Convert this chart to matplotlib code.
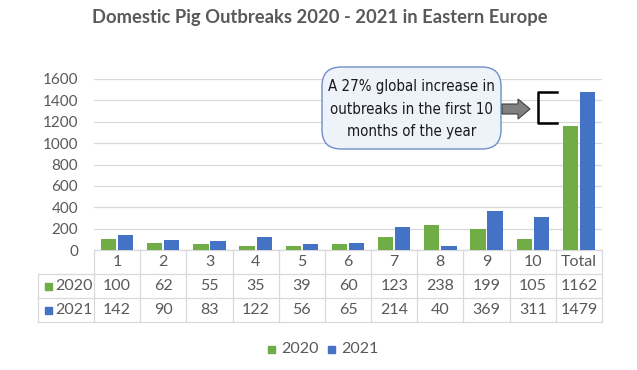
import matplotlib
matplotlib.use("Agg")
import matplotlib.pyplot as plt
from matplotlib.patches import FancyBboxPatch, FancyArrow, Rectangle
from matplotlib.transforms import blended_transform_factory
from matplotlib import font_manager
import numpy as np

categories = ["1", "2", "3", "4", "5", "6", "7", "8", "9", "10", "Total"]
series_2020 = [100, 62, 55, 35, 39, 60, 123, 238, 199, 105, 1162]
series_2021 = [142, 90, 83, 122, 56, 65, 214, 40, 369, 311, 1479]
series_names = ["2020", "2021"]
yticks = [0, 200, 400, 600, 800, 1000, 1200, 1400, 1600]
title = "Domestic Pig Outbreaks 2020 - 2021 in Eastern Europe"
callout = "A 27% global increase in\noutbreaks in the first 10\nmonths of the year"

GREEN = "#70ad47"
BLUE = "#4472c4"
TXT = "#595959"
GRID = "#d9d9d9"
FONT = ["Lato", "DejaVu Sans"]
plt.rcParams['font.family'] = FONT

cond = [f for f in font_manager.fontManager.ttflist
        if f.name == "DejaVu Sans" and "Condensed" in f.fname
        and "Oblique" not in f.fname and "Bold" not in f.fname]

W, H = 637, 370
fig = plt.figure(figsize=(W / 100, H / 100), dpi=100)
fig.patch.set_facecolor("white")

x0, x1 = 94, 602
y_top, y_bot = 79, 250
ax = fig.add_axes([x0 / W, 1 - y_bot / H, (x1 - x0) / W, (y_bot - y_top) / H])
n = len(categories)
x = np.arange(n)
bw = 0.33
gap = 0.04
ax.bar(x - (bw + gap) / 2, series_2020, width=bw, color=GREEN, zorder=3)
ax.bar(x + (bw + gap) / 2, series_2021, width=bw, color=BLUE, zorder=3)
ax.set_xlim(-0.5, n - 0.5)
ax.set_ylim(0, 1600)
ax.set_yticks(yticks)
ax.set_yticklabels([str(v) for v in yticks], color=TXT, fontsize=11)
ax.tick_params(axis="y", length=0, pad=11.5)
ax.set_xticks([])
ax.grid(axis="y", color=GRID, linewidth=0.9, zorder=0)
for s in ax.spines.values():
    s.set_visible(False)

fig.text(320 / W, 1 - 18 / H, title, ha="center", va="center",
         fontsize=13.2, fontweight="bold", color=TXT)

tr = blended_transform_factory(ax.transData, ax.transAxes)
ph = (y_bot - y_top)
row_h = 24 / ph
lab_left = -0.5 - 56 / ((x1 - x0) / n)
lc = "#d9d9d9"
lw = 0.9
ax.plot([-0.5, n - 0.5], [0, 0], transform=tr, color=lc, lw=lw, clip_on=False)
for k in range(1, 4):
    ax.plot([lab_left, n - 0.5], [-k * row_h] * 2, transform=tr, color=lc, lw=lw, clip_on=False)
for i in range(n + 1):
    ax.plot([i - 0.5] * 2, [0, -3 * row_h], transform=tr, color=lc, lw=lw, clip_on=False)
ax.plot([lab_left] * 2, [-row_h, -3 * row_h], transform=tr, color=lc, lw=lw, clip_on=False)

TS = 11.5
for i, c in enumerate(categories):
    ax.text(i, -0.5 * row_h, c, transform=tr, ha="center", va="center", fontsize=TS, color=TXT)
    ax.text(i, -1.5 * row_h, str(series_2020[i]), transform=tr, ha="center", va="center", fontsize=TS, color=TXT)
    ax.text(i, -2.5 * row_h, str(series_2021[i]), transform=tr, ha="center", va="center", fontsize=TS, color=TXT)

for r, (name, col) in enumerate(zip(series_names, [GREEN, BLUE])):
    yc = 1 - (y_bot + 24 * (r + 1) + 12) / H
    fig.patches.append(Rectangle((45 / W, yc - 3.5 / H), 7 / W, 7 / H,
                                 transform=fig.transFigure, color=col))
    fig.text(74 / W, yc, name, ha="center", va="center", fontsize=TS, color=TXT)

for name, col, lx in zip(series_names, [GREEN, BLUE], [268, 328]):
    yc = 1 - 349 / H
    fig.patches.append(Rectangle((lx / W, yc - 3.5 / H), 7 / W, 7 / H,
                                 transform=fig.transFigure, color=col))
    fig.text((lx + 13) / W, yc, name, ha="left", va="center", fontsize=11.5, color=TXT)

bx0, bx1, by0, by1 = 322, 501, 67, 149
box = FancyBboxPatch((bx0 / W, 1 - by1 / H), (bx1 - bx0) / W, (by1 - by0) / H,
                     boxstyle="round,pad=0,rounding_size=0.03",
                     transform=fig.transFigure, facecolor="#eef2f9",
                     edgecolor="#6f8fc6", linewidth=1.0, mutation_aspect=W / H)
fig.patches.append(box)
if cond:
    cprops = dict(fontproperties=font_manager.FontProperties(fname=cond[0].fname, size=10.8))
else:
    cprops = dict(fontsize=11, family=["Lato", "DejaVu Sans"])
fig.text((bx0 + bx1) / 2 / W, 1 - 109 / H, callout, ha="center", va="center",
         color="#1a1a1a", linespacing=1.6, **cprops)

ay = 1 - 109 / H
arr = FancyArrow(502 / W, ay, 28 / W, 0, width=10 / H, head_width=20 / H,
                 head_length=12 / W, length_includes_head=True,
                 transform=fig.transFigure, facecolor="#808080", edgecolor="#404040", lw=0.8)
fig.patches.append(arr)

bxs = [557, 538, 538, 557]
bys = [92, 92, 123, 123]
fig.lines.append(plt.Line2D([v / W for v in bxs], [1 - v / H for v in bys],
                            transform=fig.transFigure, color="black", lw=1.8))

fig.savefig("out.png", dpi=100, facecolor="white")
